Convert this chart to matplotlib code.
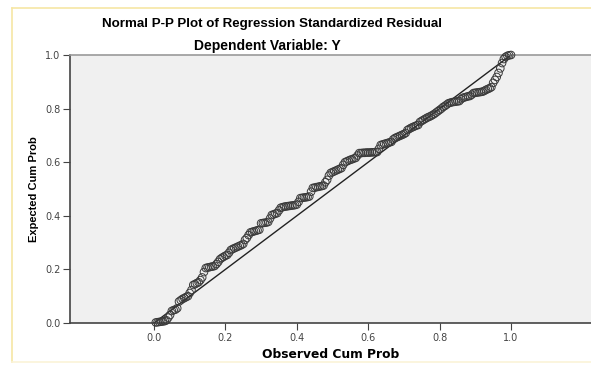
import matplotlib
matplotlib.use("Agg")
import matplotlib.pyplot as plt
from matplotlib.lines import Line2D

observed = [
    0.005, 0.010, 0.015, 0.020, 0.025, 0.030, 0.035, 0.040, 0.045, 0.050,
    0.055, 0.060, 0.065, 0.070, 0.075, 0.080, 0.085, 0.090, 0.095, 0.100,
    0.105, 0.110, 0.115, 0.120, 0.125, 0.130, 0.135, 0.140, 0.145, 0.150,
    0.155, 0.160, 0.165, 0.170, 0.175, 0.180, 0.185, 0.190, 0.195, 0.200,
    0.205, 0.210, 0.215, 0.220, 0.225, 0.230, 0.235, 0.240, 0.245, 0.250,
    0.255, 0.260, 0.265, 0.270, 0.275, 0.280, 0.285, 0.290, 0.295, 0.300,
    0.305, 0.310, 0.315, 0.320, 0.325, 0.330, 0.335, 0.340, 0.345, 0.350,
    0.355, 0.360, 0.365, 0.370, 0.375, 0.380, 0.385, 0.390, 0.395, 0.400,
    0.405, 0.410, 0.415, 0.420, 0.425, 0.430, 0.435, 0.440, 0.445, 0.450,
    0.455, 0.460, 0.465, 0.470, 0.475, 0.480, 0.485, 0.490, 0.495, 0.500,
    0.505, 0.510, 0.515, 0.520, 0.525, 0.530, 0.535, 0.540, 0.545, 0.550,
    0.555, 0.560, 0.565, 0.570, 0.575, 0.580, 0.585, 0.590, 0.595, 0.600,
    0.605, 0.610, 0.615, 0.620, 0.625, 0.630, 0.635, 0.640, 0.645, 0.650,
    0.655, 0.660, 0.665, 0.670, 0.675, 0.680, 0.685, 0.690, 0.695, 0.700,
    0.705, 0.710, 0.715, 0.720, 0.725, 0.730, 0.735, 0.740, 0.745, 0.750,
    0.755, 0.760, 0.765, 0.770, 0.775, 0.780, 0.785, 0.790, 0.795, 0.800,
    0.805, 0.810, 0.815, 0.820, 0.825, 0.830, 0.835, 0.840, 0.845, 0.850,
    0.855, 0.860, 0.865, 0.870, 0.875, 0.880, 0.885, 0.890, 0.895, 0.900,
    0.905, 0.910, 0.915, 0.920, 0.925, 0.930, 0.935, 0.940, 0.945, 0.950,
    0.955, 0.960, 0.965, 0.970, 0.975, 0.980, 0.985, 0.990, 0.995, 1.000,
]

expected = [
    0.002, 0.003, 0.004, 0.005, 0.006, 0.007, 0.010, 0.020, 0.030, 0.045,
    0.048, 0.050, 0.055, 0.080, 0.085, 0.090, 0.093, 0.097, 0.100, 0.112,
    0.123, 0.142, 0.145, 0.149, 0.152, 0.160, 0.170, 0.190, 0.205, 0.207,
    0.208, 0.210, 0.211, 0.213, 0.220, 0.228, 0.238, 0.243, 0.247, 0.251,
    0.254, 0.262, 0.272, 0.276, 0.279, 0.282, 0.285, 0.288, 0.291, 0.295,
    0.310, 0.317, 0.328, 0.338, 0.340, 0.342, 0.344, 0.346, 0.348, 0.372,
    0.373, 0.374, 0.375, 0.377, 0.390, 0.403, 0.405, 0.408, 0.410, 0.420,
    0.430, 0.432, 0.434, 0.435, 0.436, 0.437, 0.438, 0.439, 0.440, 0.442,
    0.452, 0.466, 0.467, 0.468, 0.469, 0.470, 0.472, 0.490, 0.504, 0.505,
    0.507, 0.508, 0.510, 0.511, 0.513, 0.525, 0.534, 0.550, 0.560, 0.563,
    0.566, 0.569, 0.572, 0.575, 0.578, 0.590, 0.600, 0.603, 0.606, 0.609,
    0.611, 0.614, 0.616, 0.625, 0.634, 0.634, 0.635, 0.635, 0.636, 0.636,
    0.636, 0.637, 0.637, 0.638, 0.638, 0.650, 0.664, 0.666, 0.668, 0.670,
    0.672, 0.674, 0.676, 0.685, 0.690, 0.693, 0.696, 0.699, 0.702, 0.705,
    0.709, 0.720, 0.724, 0.728, 0.731, 0.734, 0.737, 0.739, 0.750, 0.754,
    0.758, 0.762, 0.766, 0.769, 0.772, 0.776, 0.780, 0.785, 0.790, 0.795,
    0.800, 0.806, 0.810, 0.815, 0.820, 0.822, 0.824, 0.825, 0.826, 0.827,
    0.828, 0.835, 0.840, 0.842, 0.844, 0.846, 0.847, 0.852, 0.858, 0.859,
    0.860, 0.861, 0.862, 0.863, 0.866, 0.870, 0.873, 0.876, 0.880, 0.896,
    0.907, 0.918, 0.933, 0.950, 0.970, 0.985, 0.993, 0.997, 0.999, 1.000,
]

ref_line = [0.0, 1.0]
tick_vals = [0.0, 0.2, 0.4, 0.6, 0.8, 1.0]
tick_labels = ["0.0", "0.2", "0.4", "0.6", "0.8", "1.0"]

W, H = 591, 365
fig = plt.figure(figsize=(W / 100, H / 100), dpi=100)
fig.patch.set_facecolor("white")

# light yellow frame
border = "#f6e6a4"
fig.add_artist(Line2D([12 / W, 1.0], [1 - 7.5 / H, 1 - 7.5 / H], color=border, lw=1.2, transform=fig.transFigure))
fig.add_artist(Line2D([12 / W, 12 / W], [1 - 7.5 / H, 3 / H], color=border, lw=1.2, transform=fig.transFigure))
fig.add_artist(Line2D([12 / W, 1.0], [3 / H, 3 / H], color="#fbf3d8", lw=1.2, transform=fig.transFigure))

left_px, right_px, top_px, bot_px = 70, 591, 55, 323
ax = fig.add_axes([left_px / W, 1 - bot_px / H, (right_px - left_px) / W, (bot_px - top_px) / H])
ax.set_facecolor("#f0f0f0")

x0_px, x1_px = 154, 511
scale = (x1_px - x0_px)
ax.set_xlim((left_px - x0_px) / scale, (right_px - x0_px) / scale)
ax.set_ylim(0.0, 1.0)

ax.plot(ref_line, ref_line, color="#222222", lw=1.0, zorder=2)
ax.scatter(observed, expected, s=30, facecolors="none", edgecolors="#3a3a3a",
           linewidths=0.7, zorder=3, clip_on=False)

ax.spines["right"].set_visible(False)
ax.spines["top"].set_color("#9a9a9a")
ax.spines["top"].set_linewidth(1.2)
ax.spines["left"].set_color("#444444")
ax.spines["left"].set_linewidth(1.2)
ax.spines["bottom"].set_color("#444444")
ax.spines["bottom"].set_linewidth(1.2)

ax.set_xticks(tick_vals)
ax.set_xticklabels(tick_labels)
ax.set_yticks(tick_vals)
ax.set_yticklabels(tick_labels)
ax.tick_params(axis="both", direction="out", length=5, width=0.8, color="#444444",
               labelsize=7, labelcolor="#444444", pad=2)

ax.set_xlabel("Observed Cum Prob", fontsize=8.8, fontweight="bold",
              family="DejaVu Sans", labelpad=4)
ax.set_ylabel("Expected Cum Prob", fontsize=8.0, fontweight="bold",
              family="Liberation Sans", labelpad=4)

fig.text(272 / W, 1 - 24 / H, "Normal P-P Plot of Regression Standardized Residual",
         ha="center", va="center", fontsize=9.6, fontweight="bold", family="Liberation Sans")
fig.text(267 / W, 1 - 46 / H, "Dependent Variable: Y",
         ha="center", va="center", fontsize=10, fontweight="bold", family="Liberation Sans")

fig.savefig("out.png", dpi=100, facecolor="white")
